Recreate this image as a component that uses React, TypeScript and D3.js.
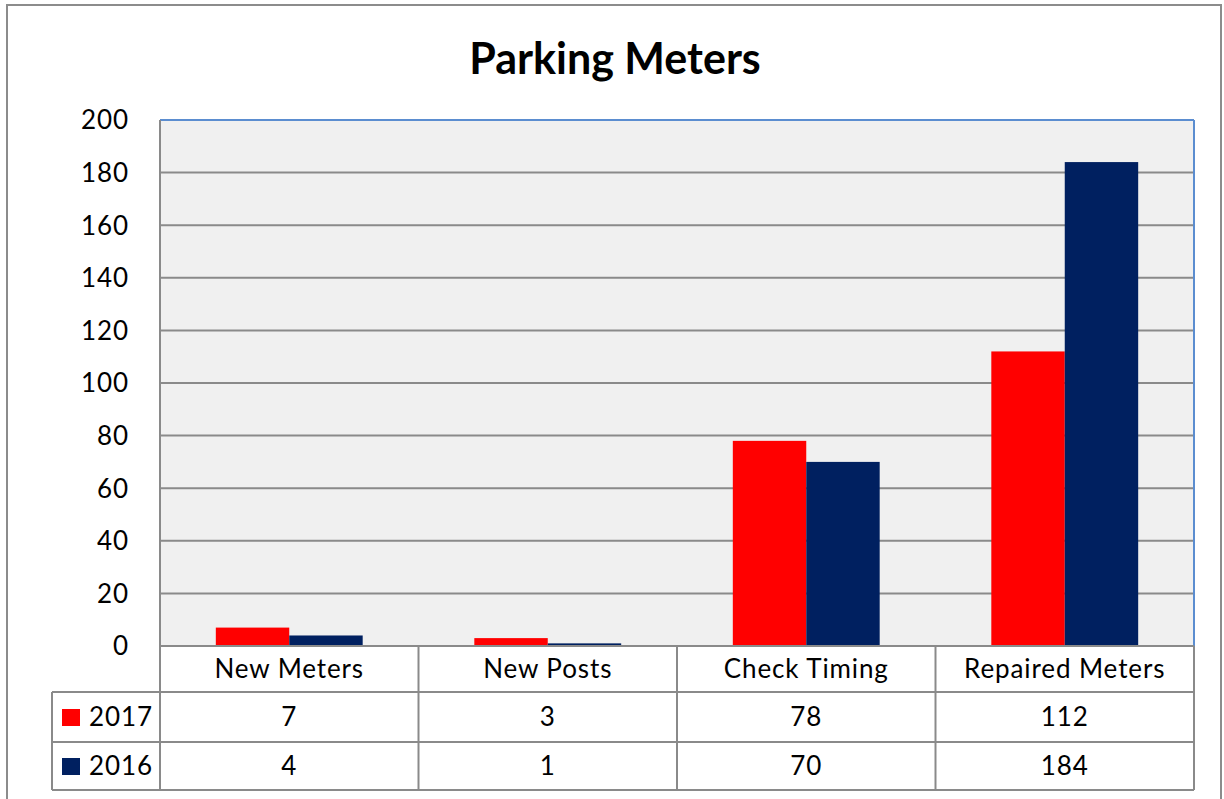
import React from "react";
import * as d3 from "d3";

const categories = ["New Meters", "New Posts", "Check Timing", "Repaired Meters"];
const seriesNames = ["2017", "2016"];
const values2017 = [7, 3, 78, 112];
const values2016 = [4, 1, 70, 184];
const yTicks = [0, 20, 40, 60, 80, 100, 120, 140, 160, 180, 200];
const colors = ["#ff0000", "#002060"];

export default function App() {
  const W = 1224, H = 799;
  const left = 160, right = 1194, top = 120, bottom = 646;
  const legendLeft = 52;
  const rowH = [646, 692, 742, 790];
  const font = "Lato, 'Open Sans', sans-serif";
  const fs = 26;
  const ls = 0.9;

  const x = d3.scaleBand().domain(categories).range([left, right]).paddingInner(0).paddingOuter(0);
  const x1 = d3.scaleBand().domain(seriesNames).range([0, x.bandwidth()]).paddingInner(0).paddingOuter(0.76);
  const y = d3.scaleLinear().domain([0, 200]).range([bottom, top]);
  const seriesVals = [values2017, values2016];

  const colEdges = [legendLeft, ...categories.map((c) => x(c)!), right];

  return (
    <svg width={W} height={H} style={{ position: "absolute", left: 0, top: 0 }}>
      <rect x={0} y={0} width={W} height={H} fill="#ffffff" />
      <rect x={7} y={5} width={1214} height={H + 10} fill="#ffffff" stroke="#8c8c8c" strokeWidth={2} />
      <text x={615} y={74} textAnchor="middle" fontFamily={font} fontWeight="bold" fontSize={43} fill="#000">
        Parking Meters
      </text>
      <rect x={left} y={top} width={right - left} height={bottom - top} fill="#f0f0f0" />
      {yTicks.map((t) => (
        <g key={t}>
          {t > 0 && t < 200 && (
            <line x1={left} x2={right} y1={y(t)} y2={y(t)} stroke="#8a8a8a" strokeWidth={2} />
          )}
          <text x={129} y={y(t)} dy="0.36em" textAnchor="end" fontFamily={font} fontSize={fs} letterSpacing={ls} fill="#000">
            {t}
          </text>
        </g>
      ))}
      {categories.map((c, i) =>
        seriesNames.map((s, j) => (
          <rect
            key={c + s}
            x={x(c)! + x1(s)!}
            y={y(seriesVals[j][i])}
            width={x1.bandwidth()}
            height={bottom - y(seriesVals[j][i])}
            fill={colors[j]}
          />
        ))
      )}
      <line x1={left} x2={right} y1={top} y2={top} stroke="#5b8dd0" strokeWidth={2} />
      <line x1={right} x2={right} y1={top} y2={bottom} stroke="#5b8dd0" strokeWidth={2} />
      <line x1={left} x2={left} y1={top} y2={bottom} stroke="#8a8a8a" strokeWidth={2} />
      {/* data table */}
      <line x1={left} x2={right} y1={rowH[0]} y2={rowH[0]} stroke="#8a8a8a" strokeWidth={2} />
      {[1, 2, 3].map((r) => (
        <line key={r} x1={legendLeft} x2={right} y1={rowH[r]} y2={rowH[r]} stroke="#8a8a8a" strokeWidth={2} />
      ))}
      {colEdges.map((cx, i) => (
        <line
          key={i}
          x1={cx}
          x2={cx}
          y1={i === 0 ? rowH[1] : rowH[0]}
          y2={rowH[3]}
          stroke="#8a8a8a"
          strokeWidth={2}
        />
      ))}
      {categories.map((c) => (
        <text
          key={c}
          x={x(c)! + x.bandwidth() / 2}
          y={(rowH[0] + rowH[1]) / 2}
          dy="0.36em"
          textAnchor="middle"
          fontFamily={font}
          fontSize={fs}
          letterSpacing={ls}
          fill="#000"
        >
          {c}
        </text>
      ))}
      {seriesNames.map((s, j) => (
        <g key={s}>
          <rect x={62} y={(rowH[j + 1] + rowH[j + 2]) / 2 - 8} width={18} height={17} fill={colors[j]} />
          <text
            x={89}
            y={(rowH[j + 1] + rowH[j + 2]) / 2}
            dy="0.36em"
            fontFamily={font}
            fontSize={fs}
            letterSpacing={ls}
            fill="#000"
          >
            {s}
          </text>
          {categories.map((c, i) => (
            <text
              key={c}
              x={x(c)! + x.bandwidth() / 2}
              y={(rowH[j + 1] + rowH[j + 2]) / 2}
              dy="0.36em"
              textAnchor="middle"
              fontFamily={font}
              fontSize={fs}
              letterSpacing={ls}
              fill="#000"
            >
              {seriesVals[j][i]}
            </text>
          ))}
        </g>
      ))}
    </svg>
  );
}
